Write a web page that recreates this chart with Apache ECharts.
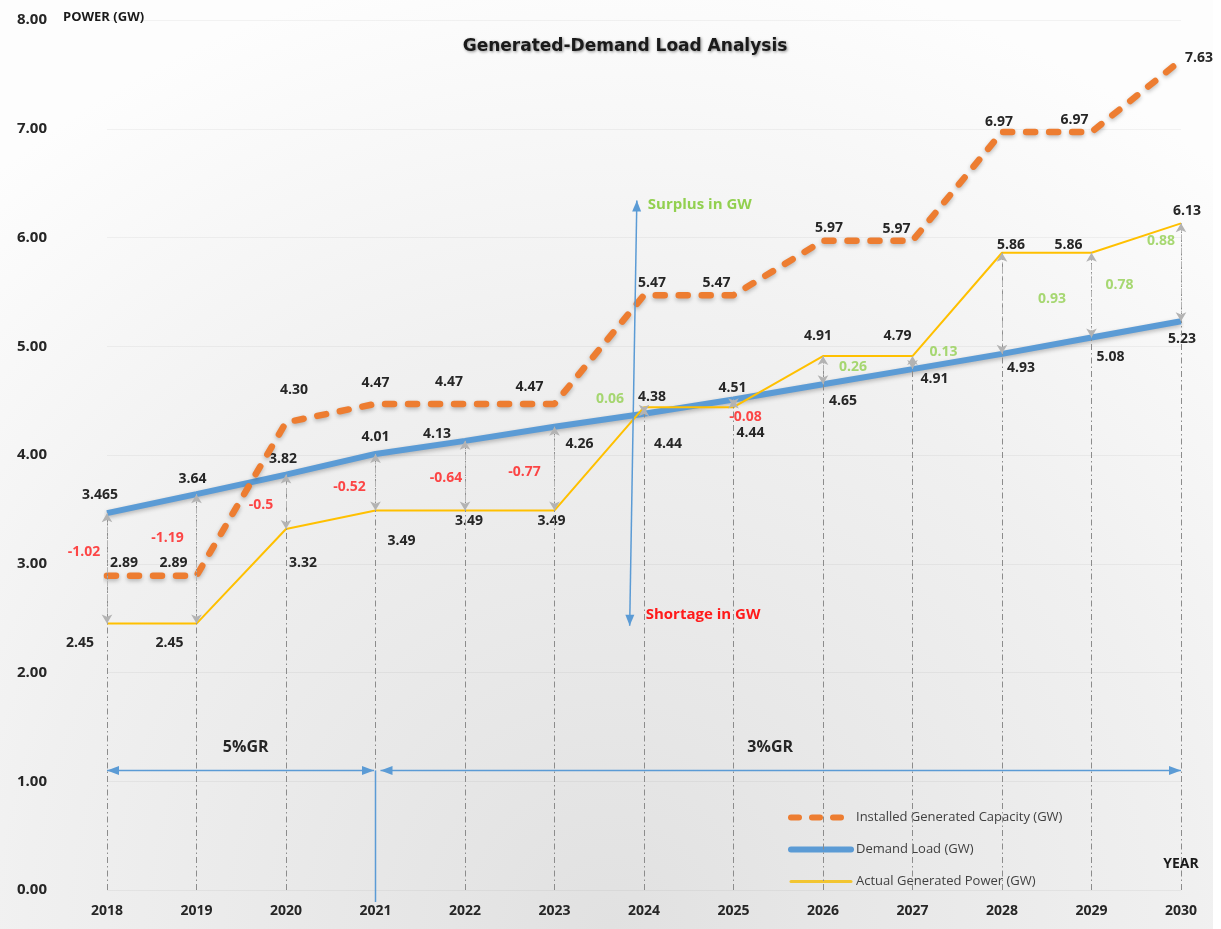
<!DOCTYPE html>
<html>
<head>
<meta charset="utf-8">
<title>Generated-Demand Load Analysis</title>
<script src="https://cdn.jsdelivr.net/npm/echarts@6/dist/echarts.min.js"></script>
<style>
  html, body { margin: 0; padding: 0; background: #fff; }
  #main { width: 1221px; height: 929px; }
</style>
</head>
<body>
<div id="main"></div>
<script>
// 数据
const years = ['2018', '2019', '2020', '2021', '2022', '2023', '2024', '2025', '2026', '2027', '2028', '2029', '2030']
const installed = [2.89, 2.89, 4.30, 4.47, 4.47, 4.47, 5.47, 5.47, 5.97, 5.97, 6.97, 6.97, 7.63]
const demand = [3.465, 3.64, 3.82, 4.01, 4.13, 4.26, 4.38, 4.51, 4.65, 4.79, 4.93, 5.08, 5.23]
const actual = [2.45, 2.45, 3.32, 3.49, 3.49, 3.49, 4.44, 4.44, 4.91, 4.91, 5.86, 5.86, 6.13]
// surplus / shortage shown between demand and actual
const gap = [-1.02, -1.19, -0.5, -0.52, -0.64, -0.77, 0.06, -0.08, 0.26, 0.13, 0.93, 0.78, 0.88]

// label offsets (px) so the numbers sit where the original puts them
const installedOff = [[17, -13], [-23, -13], [8, -32], [0, -21], [-16, -22], [-25, -17], [8, -12], [-17, -12], [6, -13], [-16, -12], [-3, -10], [-17, -12], [18, -2]]
const demandOff = [[-7, -18], [-4, -15], [-3, -16], [0, -17], [-28, -7], [25, 17], [8, -17], [-1, -12], [20, 17], [-15, -33], [19, 14], [19, 19], [1, 18]]
const actualOff = [[-27, 19], [-27, 19], [17, 34], [26, 31], [4, 11], [-3, 11], [24, 37], [17, 26], [-5, -20], [22, 23], [9, -8], [-23, -8], [6, -12]]
const gapOff = [[-23, -16], [-29, -21], [-25, 3], [-26, 5], [-19, 2], [-30, 3], [-34, -11], [12, 14], [30, -3], [31, -11], [50, -4], [28, -10], [-20, -31]]

const FONT = "'Open Sans', 'DejaVu Sans', sans-serif"
const RED = '#ff1a1a'
const GREEN = '#92d050'
const BLUE = '#5b9bd5'
const ORANGE = '#ed7d31'
const YELLOW = '#ffc000'

function fmt (v) {
  // 3.465 keeps its 3 decimals, the rest show 2
  return Math.round(v * 100) / 100 === v ? v.toFixed(2) : String(v)
}

function withLabels (arr, off) {
  return arr.map((v, i) => ({ value: v, label: { offset: off[i] } }))
}

const valueLabel = {
  show: true,
  position: 'inside',
  fontFamily: FONT,
  fontSize: 14,
  fontWeight: 'bold',
  color: '#262626',
  formatter: p => fmt(p.value)
}

const option = {
  animation: false,
  backgroundColor: {
    type: 'radial',
    x: 0.5,
    y: 1,
    r: 1.05,
    colorStops: [
      { offset: 0, color: '#e1e1e1' },
      { offset: 0.6, color: '#f0f0f0' },
      { offset: 1, color: '#fdfdfd' }
    ]
  },
  title: {
    text: 'Generated-Demand Load Analysis',
    left: 620,
    top: 33,
    textAlign: 'center',
    textStyle: {
      fontFamily: 'DejaVu Sans',
      fontSize: 17,
      fontWeight: 'bold',
      color: '#1a1a1a',
      textShadowColor: 'rgba(0,0,0,0.45)',
      textShadowBlur: 3,
      textShadowOffsetX: 1,
      textShadowOffsetY: 1
    }
  },
  legend: {
    orient: 'vertical',
    left: 783,
    top: 806,
    itemWidth: 60,
    itemHeight: 14,
    itemGap: 19,
    selectedMode: false,
    data: [
      { name: 'Installed Generated Capacity (GW)', lineStyle: { width: 6, type: [8, 13], cap: 'round', color: ORANGE } },
      { name: 'Demand Load (GW)', lineStyle: { width: 6, color: BLUE, cap: 'round' } },
      { name: 'Actual Generated Power (GW)', lineStyle: { width: 3, color: '#f2c531', cap: 'round' } }
    ],
    itemStyle: { opacity: 0 },
    textStyle: { fontFamily: FONT, fontSize: 13, color: '#404040' }
  },
  grid: {
    left: 107,
    right: 40,
    top: 20,
    bottom: 39
  },
  xAxis: {
    type: 'category',
    data: years,
    boundaryGap: false,
    axisLine: { show: false },
    axisTick: { show: false },
    axisLabel: {
      margin: 14,
      fontFamily: FONT,
      fontSize: 14,
      fontWeight: 'bold',
      color: '#262626'
    },
    splitLine: { show: false }
  },
  yAxis: {
    type: 'value',
    min: 0,
    max: 8,
    interval: 1,
    axisLine: { show: false },
    axisTick: { show: false },
    axisLabel: {
      margin: 60,
      fontFamily: FONT,
      fontSize: 15,
      fontWeight: 'bold',
      color: '#262626',
      formatter: v => v.toFixed(2)
    },
    splitLine: { lineStyle: { color: 'rgba(0,0,0,0.045)', width: 1 } }
  },
  series: [
    // dash-dot guides from the axis up to each year's points
    {
      name: 'guides',
      type: 'line',
      data: [],
      z: 1,
      markLine: {
        silent: true,
        animation: false,
        symbol: ['none', 'none'],
        label: { show: false },
        lineStyle: { color: '#8c8c8c', width: 1, type: [6, 3, 1.5, 3] },
        data: years.map((y, i) => [{ coord: [i, 0] }, { coord: [i, Math.max(demand[i], actual[i])] }])
      }
    },
    // double arrows between demand and actual
    {
      name: 'gapArrows',
      type: 'line',
      data: [],
      z: 1,
      markLine: {
        silent: true,
        animation: false,
        symbol: ['arrow', 'arrow'],
        symbolSize: [8, 9],
        label: { show: false },
        lineStyle: { color: '#b3b3b3', width: 1, type: [6, 3, 1.5, 3] },
        data: years.map((y, i) => [{ coord: [i, demand[i]] }, { coord: [i, actual[i]] }])
      }
    },
    {
      name: 'Demand Load (GW)',
      type: 'line',
      z: 2,
      symbol: 'circle',
      symbolSize: 0,
      data: withLabels(demand, demandOff),
      lineStyle: {
        color: BLUE,
        width: 6,
        shadowColor: 'rgba(0,0,0,0.25)',
        shadowBlur: 4,
        shadowOffsetY: 2
      },
      itemStyle: { color: BLUE },
      label: valueLabel
    },
    {
      name: 'Installed Generated Capacity (GW)',
      type: 'line',
      z: 3,
      symbol: 'circle',
      symbolSize: 0,
      data: withLabels(installed, installedOff),
      lineStyle: {
        color: ORANGE,
        width: 6.5,
        type: [9, 14],
        cap: 'round',
        shadowColor: 'rgba(0,0,0,0.25)',
        shadowBlur: 4,
        shadowOffsetY: 2
      },
      itemStyle: { color: ORANGE },
      label: valueLabel
    },
    {
      name: 'Actual Generated Power (GW)',
      type: 'line',
      z: 4,
      symbol: 'circle',
      symbolSize: 0,
      data: withLabels(actual, actualOff),
      lineStyle: { color: YELLOW, width: 2 },
      itemStyle: { color: YELLOW },
      label: valueLabel
    },
    // surplus / shortage numbers, anchored half way between demand and actual
    {
      name: 'gap',
      type: 'scatter',
      z: 5,
      symbolSize: 0,
      data: gap.map((g, i) => ({
        value: [i, (demand[i] + actual[i]) / 2],
        label: { offset: gapOff[i], color: g < 0 ? RED : GREEN }
      })),
      label: {
        show: true,
        position: 'inside',
        fontFamily: FONT,
        fontSize: 14,
        fontWeight: 'bold',
        formatter: p => String(gap[p.dataIndex])
      }
    }
  ]
}

const chart = echarts.init(document.getElementById('main'))
chart.setOption(option)

// 位置换算：支持类目轴上的小数位置
function px (f, v) {
  const i = Math.floor(f)
  const a = chart.convertToPixel({ gridIndex: 0 }, [i, v])
  if (f === i) return a
  const b = chart.convertToPixel({ gridIndex: 0 }, [i + 1, v])
  return [a[0] + (b[0] - a[0]) * (f - i), a[1]]
}

function head (tip, from, len, wid, color) {
  const a = Math.atan2(tip[1] - from[1], tip[0] - from[0])
  const dx = Math.cos(a)
  const dy = Math.sin(a)
  const bx = tip[0] - len * dx
  const by = tip[1] - len * dy
  return {
    type: 'polygon',
    z: 10,
    shape: { points: [tip, [bx - dy * wid / 2, by + dx * wid / 2], [bx + dy * wid / 2, by - dx * wid / 2]] },
    style: { fill: color }
  }
}

function arrow (p1, p2, color, width, len, wid) {
  return [
    { type: 'line', z: 10, shape: { x1: p1[0], y1: p1[1], x2: p2[0], y2: p2[1] }, style: { stroke: color, lineWidth: width } },
    head(p1, p2, len, wid, color),
    head(p2, p1, len, wid, color)
  ]
}

function text (str, x, y, size, color, align, weight) {
  return {
    type: 'text',
    z: 10,
    x: x,
    y: y,
    style: {
      text: str,
      fontFamily: FONT,
      fontSize: size,
      fontWeight: weight || 'bold',
      fill: color,
      align: align || 'left',
      verticalAlign: 'middle'
    }
  }
}

const grA = px(0, 1.1)
const grB = px(3, 1.1)
const grC = px(12, 1.1)
const grZero = px(3, 0)
const surTop = px(5.92, 6.34)
const surBot = px(5.84, 2.43)
const surText = px(5.92, 6.3)
const shoText = px(5.84, 2.53)
const gr5 = px(1.55, 1.31)
const gr3 = px(7.41, 1.31)
const yName = px(0, 8)
const xName = px(12, 0.24)

chart.setOption({
  graphic: [
    { type: 'rect', z: -1, shape: { x: 1213, y: 0, width: 8, height: 929 }, style: { fill: '#ffffff' } },
    ...arrow(surBot, surTop, BLUE, 1.5, 11, 9),
    text('Surplus in GW', surText[0] + 11, surText[1], 15, GREEN),
    text('Shortage in GW', shoText[0] + 16, shoText[1], 15, RED),
    ...arrow(grA, [grB[0] - 1.5, grB[1]], BLUE, 1.5, 12, 9),
    ...arrow([grB[0] + 5, grB[1]], grC, BLUE, 1.5, 12, 9),
    { type: 'line', z: 10, shape: { x1: grB[0], y1: grB[1], x2: grZero[0], y2: grZero[1] + 12 }, style: { stroke: BLUE, lineWidth: 1.5 } },
    text('5%GR', gr5[0], gr5[1], 16, '#262626', 'center'),
    text('3%GR', gr3[0], gr3[1], 16, '#262626', 'center'),
    text('POWER (GW)', yName[0] - 44, yName[1] - 3, 13, '#1a1a1a'),
    text('YEAR', xName[0], xName[1], 14, '#1a1a1a', 'center')
  ]
})
</script>
</body>
</html>
